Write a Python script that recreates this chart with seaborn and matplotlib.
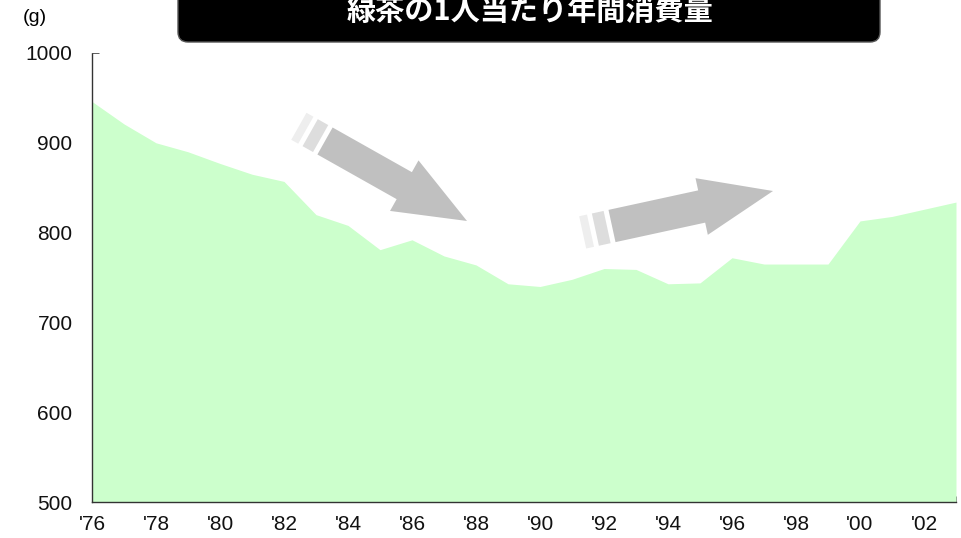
import numpy as np
import pandas as pd
import matplotlib
matplotlib.use("Agg")
import matplotlib.pyplot as plt
from matplotlib.patches import Polygon, FancyBboxPatch
import seaborn as sns

# データ（緑茶の1人当たり年間消費量, g）
years = list(range(1976, 2004))
consumption = [946, 921, 900, 890, 877, 865, 857, 820, 808, 781,
               792, 774, 764, 743, 740, 748, 760, 759, 743, 744,
               772, 765, 765, 765, 813, 818, 826, 834]
year_ticks = list(range(1976, 2003, 2))
year_labels = ["'" + str(y)[2:] for y in year_ticks]
y_ticks = [500, 600, 700, 800, 900, 1000]
title = "緑茶の1人当たり年間消費量"
unit = "(g)"

df = pd.DataFrame({"year": years, "g": consumption})

sns.set_theme(style="white")
plt.rcParams["font.family"] = ["Liberation Sans", "Noto Sans CJK JP", "DejaVu Sans"]

fig = plt.figure(figsize=(9.61, 5.38), dpi=100)
ax = fig.add_axes([92 / 961, 1 - 502 / 538, (956 - 92) / 961, (502 - 53) / 538])

# 面グラフ
sns.lineplot(data=df, x="year", y="g", ax=ax, color="#CCFFCC", linewidth=0)
ax.fill_between(df["year"], 500, df["g"], color="#CCFFCC", linewidth=0)

ax.set_xlim(1976, 2003)
ax.set_ylim(500, 1000)
ax.set_xticks(year_ticks)
ax.set_xticklabels(year_labels)
ax.set_xticks(years, minor=True)
ax.set_yticks(y_ticks)
ax.set_xlabel("")
ax.set_ylabel("")

for side in ["top", "right"]:
    ax.spines[side].set_visible(False)
for side in ["left", "bottom"]:
    ax.spines[side].set_linestyle((0, (1, 1)))
    ax.spines[side].set_color("#333333")
    ax.spines[side].set_linewidth(1.0)

ax.tick_params(axis="x", which="both", direction="in", length=4, width=0.6,
               color="#444444", labelsize=15, labelcolor="#111111", pad=9, bottom=True)
ax.tick_params(axis="y", direction="in", length=5, width=0.6,
               color="#444444", labelsize=15, labelcolor="#111111", pad=14, left=True)

# オーバーレイ（ピクセル座標）
ov = fig.add_axes([0, 0, 1, 1], zorder=5)
ov.set_xlim(0, 961)
ov.set_ylim(538, 0)
ov.axis("off")
ov.patch.set_alpha(0)


def fat_arrow(tail, tip, body_w, head_w, head_len):
    tail = np.array(tail, float)
    tip = np.array(tip, float)
    d = tip - tail
    L = np.hypot(*d)
    u = d / L
    n = np.array([-u[1], u[0]])
    base = tip - u * head_len
    pts = [tail + n * body_w / 2, base + n * body_w / 2, base + n * head_w / 2, tip,
           base - n * head_w / 2, base - n * body_w / 2, tail - n * body_w / 2]
    ov.add_patch(Polygon(pts, closed=True, facecolor="#C0C0C0", edgecolor="none"))
    # 尾部の帯
    for off, w, c in [(5, 12, "#DDDDDD"), (22, 8, "#EEEEEE")]:
        a = tail - u * off
        b = a - u * w
        ov.add_patch(Polygon([a + n * body_w / 2, a - n * body_w / 2,
                              b - n * body_w / 2, b + n * body_w / 2],
                             closed=True, facecolor=c, edgecolor="none"))


fat_arrow((325, 141), (467, 221), 31, 58, 72)
fat_arrow((612, 226), (773, 191), 33, 58, 73)

# タイトル枠
ov.add_patch(FancyBboxPatch((178, -30), 702, 72,
                            boxstyle="round,pad=0,rounding_size=10",
                            facecolor="black", edgecolor="#555555", linewidth=1))
ov.text(530, 11, title, color="white", fontsize=21, fontweight="bold",
        ha="center", va="center", family=["Noto Sans CJK JP", "DejaVu Sans"])
ov.text(35, 18, unit, fontsize=14, ha="center", va="center", color="black")

fig.savefig("out.png", dpi=100)
